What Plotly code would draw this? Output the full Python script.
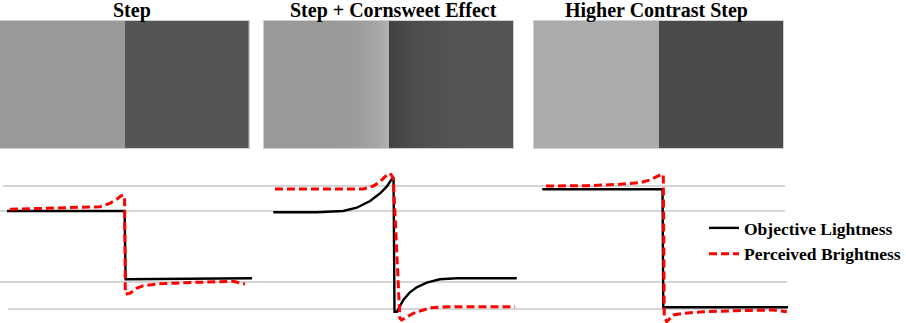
import plotly.graph_objects as go

# ---------------- data ----------------
titles = ["Step", "Step + Cornsweet Effect", "Higher Contrast Step"]

# top images: gray levels (0-255) across the stimulus (position 0..100)
step_edges = [0, 50, 100]
step_gray = [153, 85]
high_gray = [171, 75]
cornsweet_x = [0, 26.5, 34.5, 38.5, 42.5, 46.5, 48.9, 49.9, 50.1, 51.3, 54.6, 58.6, 62.6, 68.6, 76.6, 86.6, 100]
cornsweet_gray = [153, 153, 155, 158, 162, 168, 174, 177, 64, 67, 71, 75, 78, 81, 84, 85, 85]

# lower charts: lightness profiles (position 0..100, lightness units)
p1_obj_x = [0, 48, 48.4, 100]
p1_obj_y = [112, 112, 43.7, 44.7]
p1_per_x = [1.2, 31.0, 38.0, 42.0, 44.8, 46.4, 47.5, 48.0, 48.3, 50.2, 52.9, 55.6, 61.1, 71.8, 85.6, 92.2, 97.1]
p1_per_y = [113.7, 115.3, 116.3, 119.7, 123.7, 127, 128, 123, 29, 29.7, 34.7, 37.3, 39, 40.3, 41.7, 41.7, 39]

p2_obj_x = [0.1, 17.9, 28.8, 34.3, 39.8, 43.9, 46.6, 48.6, 49.4, 49.8, 50.8, 53.4, 56.1, 58.9, 63.0, 68.4, 75.3, 99.9]
p2_obj_y = [110.7, 110.7, 112, 115.3, 122, 129.7, 136.3, 143.7, 144, 11.3, 11.3, 23, 30.7, 35.7, 40.3, 43.7, 44.7, 44.7]
p2_per_x = [0.8, 37.0, 41.1, 43.9, 45.9, 48.0, 49.3, 50.7, 52.0, 52.7, 54.8, 57.5, 61.6, 65.0, 72.5, 99.2]
p2_per_y = [134, 134, 137, 141.3, 146.3, 149.7, 144.7, 63, 4.7, 3, 6.3, 9.7, 13, 15.3, 16.3, 16.3]

p3_obj_x = [0.1, 49.0, 49.3, 100]
p3_obj_y = [133.7, 133.7, 15.7, 15.7]
p3_per_x = [1.6, 18.2, 31.7, 39.8, 43.9, 46.6, 48.7, 49.3, 49.7, 50.7, 53.4, 57.4, 65.6, 79.1, 94.0, 99.5]
p3_per_y = [137, 137.3, 138.7, 140.3, 143, 146.3, 149, 148, 6.3, 1.3, 8, 9.7, 11.3, 12.3, 13, 11.3]

grid_levels = [137, 112, 41, 14]

legend_names = ["Objective Lightness", "Perceived Brightness"]

# ---------------- layout constants ----------------
W, H = 906, 323
def px(x):
    return x / W
def py(y):
    return (H - y) / H

img_x_dom = [(0, 248.7), (264, 513.3), (534, 783)]
img_y_dom = (20.7, 148.3)
line_x_dom = [(7, 252), (273, 517), (542, 788)]
line_y_top = 160
title_cx = [131.5, 393.5, 656.5]
grid_x = [(3, 785), (0, 785), (0, 787), (8, 787)]

SERIF = "Liberation Serif"
gray_scale = [[0, "rgb(0,0,0)"], [1, "rgb(255,255,255)"]]

fig = go.Figure()

# images
fig.add_trace(go.Heatmap(x=step_edges, y=[0, 1], z=[step_gray], colorscale=gray_scale,
                         zmin=0, zmax=255, showscale=False, hoverinfo="skip",
                         xaxis="x", yaxis="y"))
fig.add_trace(go.Heatmap(x=cornsweet_x, y=[0, 1], z=[cornsweet_gray, cornsweet_gray],
                         colorscale=gray_scale, zmin=0, zmax=255, showscale=False,
                         zsmooth="best", hoverinfo="skip", xaxis="x2", yaxis="y2"))
fig.add_trace(go.Heatmap(x=step_edges, y=[0, 1], z=[high_gray], colorscale=gray_scale,
                         zmin=0, zmax=255, showscale=False, hoverinfo="skip",
                         xaxis="x3", yaxis="y3"))

# lines
profiles = [
    (p1_obj_x, p1_obj_y, p1_per_x, p1_per_y),
    (p2_obj_x, p2_obj_y, p2_per_x, p2_per_y),
    (p3_obj_x, p3_obj_y, p3_per_x, p3_per_y),
]
for i, (ox, oy, rx, ry) in enumerate(profiles):
    xa = f"x{4 + i}"
    ya = f"y{4 + i}"
    fig.add_trace(go.Scatter(x=ox, y=oy, mode="lines", name=legend_names[0],
                             line=dict(color="black", width=2.4), showlegend=(i == 0),
                             cliponaxis=False, xaxis=xa, yaxis=ya, legendrank=1))
    fig.add_trace(go.Scatter(x=rx, y=ry, mode="lines", name=legend_names[1],
                             line=dict(color="#ff0000", width=3, dash="8px,4px"),
                             showlegend=(i == 0), cliponaxis=False,
                             xaxis=xa, yaxis=ya, legendrank=2))

layout = dict(
    width=W, height=H, autosize=False,
    margin=dict(l=0, r=0, t=0, b=0, pad=0),
    paper_bgcolor="white", plot_bgcolor="rgba(0,0,0,0)",
    showlegend=True,
    legend=dict(x=1, y=py(210), xanchor="right", yanchor="top",
                font=dict(family=SERIF, size=17.5, color="black", weight="bold"),
                bgcolor="rgba(0,0,0,0)", borderwidth=0, tracegroupgap=0,
                itemwidth=30),
)

img_axis = dict(showgrid=False, zeroline=False, showticklabels=False, ticks="",
                showline=True, linecolor="#cfcfcf", linewidth=1, mirror=True,
                fixedrange=True)
for i in range(3):
    n = "" if i == 0 else str(i + 1)
    layout[f"xaxis{n}"] = dict(img_axis, domain=[px(img_x_dom[i][0]), px(img_x_dom[i][1])],
                               range=[0, 100], anchor=f"y{n}")
    layout[f"yaxis{n}"] = dict(img_axis, domain=[py(img_y_dom[1]), py(img_y_dom[0])],
                               range=[0, 1], anchor=f"x{n}")

line_axis = dict(showgrid=False, zeroline=False, showticklabels=False, ticks="",
                 showline=False, fixedrange=True)
for i in range(3):
    n = str(4 + i)
    layout[f"xaxis{n}"] = dict(line_axis, domain=[px(line_x_dom[i][0]), px(line_x_dom[i][1])],
                               range=[0, 100], anchor=f"y{n}")
    layout[f"yaxis{n}"] = dict(line_axis, domain=[0, py(line_y_top)],
                               range=[0, H - line_y_top], anchor=f"x{n}")

fig.update_layout(**layout)

for lvl, (gx0, gx1) in zip(grid_levels, grid_x):
    fig.add_shape(type="line", xref="paper", yref="y4", x0=px(gx0), x1=px(gx1),
                  y0=lvl, y1=lvl, line=dict(color="#c8c8c8", width=1.3), layer="below")

for t, cx in zip(titles, title_cx):
    fig.add_annotation(text=t, xref="paper", yref="paper", x=px(cx), y=py(10),
                       xanchor="center", yanchor="middle", showarrow=False,
                       font=dict(family=SERIF, size=20, color="black", weight="bold"))

fig.write_html("out.html")
